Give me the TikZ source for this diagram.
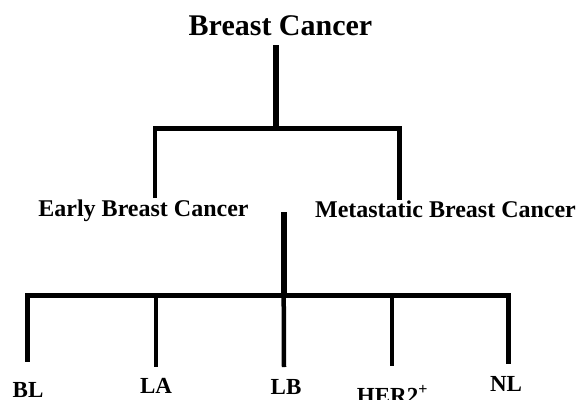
\documentclass[tikz,border=0pt]{standalone}
\usepackage{fontspec}
\setmainfont{Liberation Serif}
\begin{document}
\begin{tikzpicture}[x=1pt,y=-1pt,
  lbl/.style={font=\bfseries\fontsize{#1}{#1}\selectfont, inner sep=0pt, anchor=base, text=black},
  bar/.style={line width=4.8pt, line join=miter, line cap=butt},
  stem/.style={line width=6pt, line cap=butt},
  drop/.style={line width=4.5pt, line cap=butt}]
\useasboundingbox (0,0) rectangle (578,399);
\clip (0,0) rectangle (578,399);
\fill[white] (0,0) rectangle (578,399);
% text nodes
\node[lbl=30] (bc) at (280.5,35) {Breast Cancer};
\node[lbl=24] (ebc) at (143.5,216.5) {Early Breast Cancer};
\node[lbl=24] (mbc) at (445.5,217.3) {Metastatic Breast Cancer};
\node[lbl=23] (bl) at (28,397.5) {BL};
\node[lbl=23] (la) at (156,393.6) {LA};
\node[lbl=23] (lb) at (286,394) {LB};
\node[lbl=23] (her) at (392.5,403.6) {HER2\textsuperscript{+}};
\node[lbl=23] (nl) at (506,391.6) {NL};
% junction coordinates
\coordinate (t0) at (275.7,45);
\coordinate (t1) at (275.7,128.5);
\coordinate (eL) at (155,198);
\coordinate (eLb) at (155,128.5);
\coordinate (mR) at (399.5,200);
\coordinate (mRb) at (399.5,128.5);
\coordinate (s0) at (283.7,212);
\coordinate (s1) at (283.7,295.5);
\coordinate (blT) at (27.5,295.5);
\coordinate (blB) at (27.5,361.7);
\coordinate (laT) at (156,295.5);
\coordinate (laB) at (156,367);
\coordinate (lbB) at (284,367);
\coordinate (heT) at (392,295.5);
\coordinate (heB) at (392,366);
\coordinate (nlT) at (508.5,295.5);
\coordinate (nlB) at (508.5,364);
% connectors
\draw[stem] (t0) -- (t1);
\draw[bar] (eL) -- (eLb) -- (mRb) -- (mR);
\draw[stem] (s0) -- (s1);
\draw[bar] (blB) -- (blT) -- (nlT) -- (nlB);
\draw[drop] (laT) -- (laB);
\draw[drop] (s1) -- (lbB);
\draw[drop] (heT) -- (heB);
\end{tikzpicture}
\end{document}
